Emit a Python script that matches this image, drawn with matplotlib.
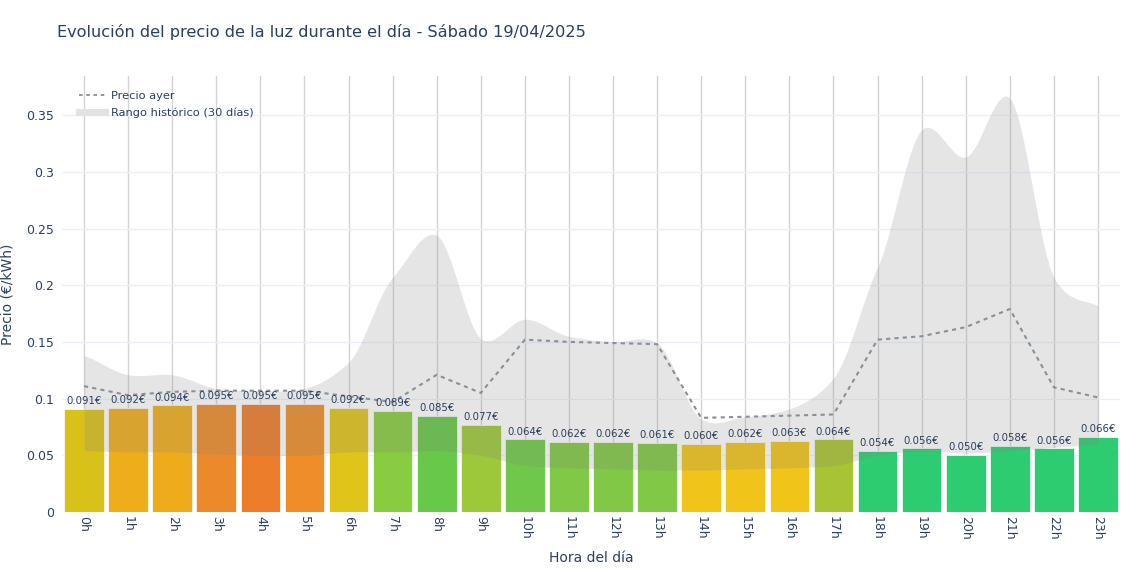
import numpy as np
import matplotlib
matplotlib.use("Agg")
import matplotlib.pyplot as plt
from matplotlib.lines import Line2D

# =========================
# DATOS
# =========================
horas = list(range(24))
etiquetas_horas = [f"{h}h" for h in horas]

precio_hoy = [0.091, 0.092, 0.094, 0.095, 0.095, 0.095, 0.092, 0.089, 0.085, 0.077,
              0.064, 0.062, 0.062, 0.061, 0.060, 0.062, 0.063, 0.064,
              0.054, 0.056, 0.050, 0.058, 0.056, 0.066]

precio_ayer = [0.111, 0.103, 0.106, 0.107, 0.107, 0.107, 0.102, 0.097, 0.121, 0.105,
               0.152, 0.150, 0.149, 0.148, 0.083, 0.084, 0.085, 0.086,
               0.152, 0.155, 0.163, 0.179, 0.110, 0.101]

rango_max = [0.138, 0.121, 0.121, 0.109, 0.107, 0.109, 0.132, 0.207, 0.244, 0.153,
             0.170, 0.155, 0.150, 0.149, 0.082, 0.084, 0.091, 0.118,
             0.216, 0.337, 0.313, 0.365, 0.207, 0.182]

rango_min = [0.054, 0.053, 0.053, 0.051, 0.050, 0.050, 0.053, 0.053, 0.054, 0.050,
             0.041, 0.039, 0.038, 0.037, 0.037, 0.038, 0.039, 0.041,
             0.050, 0.054, 0.052, 0.054, 0.057, 0.060]

colores_barras = ["#d8c21a", "#eeae1c", "#eeac1c", "#ec8a2b", "#ec7d2a", "#ee8d2a",
                  "#e0c41a", "#88cc40", "#68c84a", "#9cc83a", "#70c84a", "#80c845",
                  "#80c845", "#80c845", "#f0c419", "#f0c419", "#f0c419", "#a8c432",
                  "#2ecc71", "#2ecc71", "#2ecc71", "#2ecc71", "#2ecc71", "#2ecc71"]

COLOR_TEXTO = "#2a3f5f"


# suavizado tipo spline para dibujar la banda (como plotly line_shape="spline")
def spline(x, y, n=20, k=0.75):
    x = np.asarray(x, float)
    y = np.asarray(y, float)
    m = np.zeros_like(y)
    m[1:-1] = (y[2:] - y[:-2]) / 2 * k
    m[0] = (y[1] - y[0]) * k
    m[-1] = (y[-1] - y[-2]) * k
    xs, ys = [], []
    t = np.linspace(0, 1, n, endpoint=False)
    h00 = 2 * t ** 3 - 3 * t ** 2 + 1
    h10 = t ** 3 - 2 * t ** 2 + t
    h01 = -2 * t ** 3 + 3 * t ** 2
    h11 = t ** 3 - t ** 2
    for i in range(len(x) - 1):
        xs.append(x[i] + t * (x[i + 1] - x[i]))
        ys.append(h00 * y[i] + h10 * m[i] + h01 * y[i + 1] + h11 * m[i + 1])
    xs.append([x[-1]])
    ys.append([y[-1]])
    return np.concatenate(xs), np.concatenate(ys)


# =========================
# FIGURA
# =========================
fig = plt.figure(figsize=(11.4, 5.7), dpi=100)
ax = fig.add_axes([62 / 1140, 1 - 512 / 570, (1120 - 62) / 1140, (512 - 76) / 570])

ax.bar(horas, precio_hoy, width=0.9, color=colores_barras, edgecolor="white",
       linewidth=0.5, zorder=2)

xs, ys_max = spline(horas, rango_max)
_, ys_min = spline(horas, rango_min)
ax.fill_between(xs, ys_min, ys_max, color="#808080", alpha=0.2, linewidth=0, zorder=3)

ax.plot(horas, precio_ayer, color="#8a8f98", linestyle=(0, (2, 2)), linewidth=1.5,
        zorder=4)

for h, v in zip(horas, precio_hoy):
    ax.text(h, v + 0.0025, f"{v:.3f}€", ha="center", va="bottom", fontsize=7.3,
            color=COLOR_TEXTO, zorder=5)

ax.set_xlim(-0.5, 23.5)
ax.set_ylim(0, 0.3845)
ax.set_xticks(horas)
ax.set_xticklabels(etiquetas_horas, rotation=-90)
ax.set_yticks([0, 0.05, 0.1, 0.15, 0.2, 0.25, 0.3, 0.35])
ax.set_yticklabels(["0", "0.05", "0.1", "0.15", "0.2", "0.25", "0.3", "0.35"])
ax.tick_params(axis="both", length=0, labelsize=9, colors=COLOR_TEXTO)
ax.tick_params(axis="x", pad=3)
ax.tick_params(axis="y", pad=6)

ax.grid(axis="x", color="#d4d4d4", linewidth=1, zorder=0)
ax.grid(axis="y", color="#ebf0f8", linewidth=1, zorder=0)
ax.set_axisbelow(True)
for s in ax.spines.values():
    s.set_visible(False)

ax.set_xlabel("Hora del día", fontsize=10, color=COLOR_TEXTO, labelpad=8)
ax.set_ylabel("Precio (€/kWh)", fontsize=10, color=COLOR_TEXTO, labelpad=8)

fig.text(57 / 1140, 1 - 32 / 570, "Evolución del precio de la luz durante el día - Sábado 19/04/2025",
         fontsize=11.6, color=COLOR_TEXTO, va="center", ha="left")

handles = [
    Line2D([], [], color="#8a8f98", linestyle=(0, (2, 2)), linewidth=1.3),
    Line2D([], [], color="#e3e3e3", linewidth=5),
]
ax.legend(handles, ["Precio ayer", "Rango histórico (30 días)"], loc="upper left",
          bbox_to_anchor=(0.006, 0.99), frameon=False, fontsize=8.2,
          labelcolor=COLOR_TEXTO, handlelength=2.3, handletextpad=0.55,
          labelspacing=0.6)

fig.savefig("out.png", dpi=100)
